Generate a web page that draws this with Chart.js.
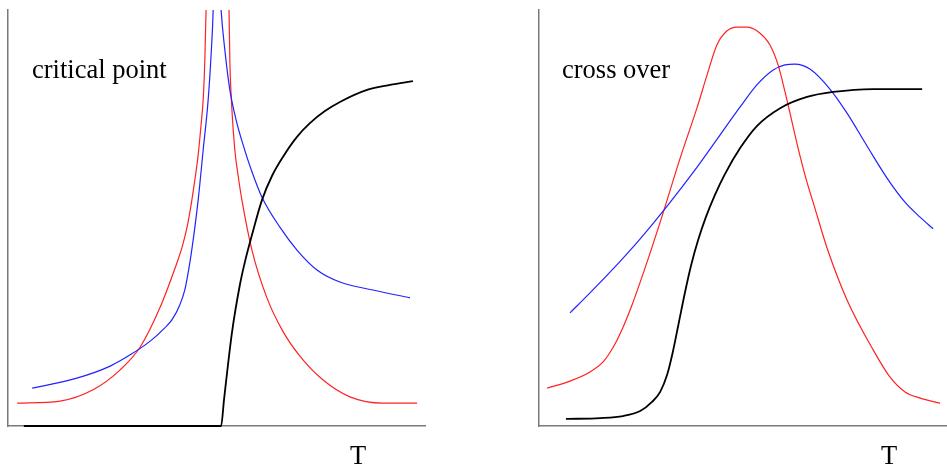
<!DOCTYPE html>
<html>
<head>
<meta charset="utf-8">
<script src="https://cdn.jsdelivr.net/npm/chart.js@4"></script>
<style>
  body { margin: 0; background: #fff; width: 947px; height: 468px; position: relative; overflow: hidden; }
  .panel { position: absolute; top: 0; height: 468px; }
  .label { position: absolute; font-family: 'Liberation Serif', 'Times New Roman', serif; font-size: 26.5px; line-height: 26px; color: #000; white-space: nowrap; }
</style>
</head>
<body>
<div class="panel" style="left:0; width:470px;"><canvas id="criticalChart"></canvas></div>
<div class="panel" style="left:480px; width:467px;"><canvas id="crossChart"></canvas></div>
<div class="label" style="left:32px; top:56px;">critical point</div>
<div class="label" style="left:350px; top:442px;">T</div>
<div class="label" style="left:562px; top:56px;">cross over</div>
<div class="label" style="left:881px; top:442px;">T</div>
<script>
// Critical point panel: [T, value] pairs, both axes run 0..100
const criticalBlack = [[3.8, 0], [51.1, 0], [51.8, 6.3], [53.7, 22.4], [55.6, 33.9], [56.8, 39.4], [58.5, 45.9],
  [60.9, 54.3], [63.3, 60.1], [66.2, 65.1], [69.3, 69.5], [72.4, 72.8], [76.0, 75.7], [79.6, 77.9], [86.1, 80.8],
  [91.6, 82.0], [97.1, 82.9]];
const criticalRedLow = [[2.2, 5.5], [12.5, 6.0], [20.4, 8.7], [26.9, 13.5], [31.7, 19.0], [36.5, 28.6], [40.5, 39.2],
  [41.7, 42.8], [42.9, 47.6], [43.9, 53.1], [44.8, 59.1], [45.6, 65.1], [46.3, 72.4], [46.8, 78.4], [47.2, 88.0],
  [47.5, 100], [47.7, 109.6]];
const criticalRedHigh = [[52.8, 109.6], [53.0, 100], [53.2, 88.0], [53.7, 76.0], [54.4, 66.3], [55.2, 60.1], [56.1, 54.3],
  [58.5, 42.3], [62.1, 30.8], [65.9, 22.8], [70.0, 16.8], [75.5, 11.1], [82.0, 7.0], [89.9, 5.5], [98.1, 5.5]];
const criticalBlueLow = [[5.8, 9.1], [16.5, 11.5], [24.5, 14.4], [29.3, 17.1], [34.1, 20.4], [37.6, 23.6], [39.3, 25.5],
  [41.2, 29.1], [42.4, 32.7], [43.4, 38.0], [44.4, 44.7], [45.6, 54.3], [46.8, 66.3], [48.0, 78.4], [48.7, 89.2],
  [49.2, 100], [49.4, 109.6]];
const criticalBlueHigh = [[50.6, 109.6], [51.1, 100], [52.0, 90.4], [53.2, 80.8], [54.7, 73.6], [56.4, 67.5], [58.5, 61.1],
  [60.9, 55.0], [65.2, 47.8], [69.3, 42.3], [74.1, 37.5], [79.6, 34.6], [87.5, 32.7], [96.4, 30.8]];

// Cross over panel
const crossBlack = [[6.6, 1.7], [15.0, 1.9], [20.6, 2.4], [24.8, 3.6], [27.7, 5.8], [29.7, 8.2], [31.4, 12.3],
  [32.8, 17.8], [34.3, 25.0], [35.8, 32.2], [37.3, 38.7], [39.0, 44.7], [40.9, 50.2], [43.1, 55.5], [45.6, 60.6],
  [49.3, 66.8], [53.4, 72.1], [59.1, 76.4], [65.7, 79.1], [72.1, 80.3], [81.9, 81.0], [93.9, 81.0]];
const crossRed = [[2.0, 9.1], [7.6, 10.8], [12.5, 13.0], [15.7, 15.4], [18.1, 18.8], [20.3, 23.1], [22.8, 29.1],
  [26.0, 38.0], [29.7, 49.0], [34.6, 64.4], [38.7, 76.4], [41.2, 84.4], [43.6, 91.6], [46.1, 95.0], [48.5, 95.9],
  [51.0, 95.9], [53.4, 95.0], [56.6, 91.6], [58.6, 86.8], [60.3, 80.3], [61.8, 74.0], [63.5, 66.8], [65.4, 59.6],
  [67.4, 53.1], [70.6, 42.8], [75.5, 30.3], [81.9, 18.3], [86.0, 11.8], [89.7, 8.2], [93.4, 6.7], [98.3, 5.5]];
const crossBlue = [[7.6, 27.2], [12.5, 32.0], [18.1, 37.7], [24.8, 45.0], [31.6, 53.1], [38.2, 61.5], [44.4, 70.0],
  [49.3, 76.7], [53.4, 82.0], [57.4, 85.6], [60.3, 86.8], [62.7, 87.0], [66.4, 85.8], [71.3, 81.0], [75.5, 75.2],
  [80.4, 67.3], [85.3, 59.6], [89.7, 53.8], [93.4, 50.2], [96.6, 47.4]];

const toPoints = pairs => pairs.map(p => ({ x: p[0], y: p[1] }));

function curve(pairs, color, width) {
  return {
    data: toPoints(pairs),
    borderColor: color,
    borderWidth: width,
    pointRadius: 0,
    fill: false,
    cubicInterpolationMode: 'monotone',
    clip: { left: 5, top: 0, right: 5, bottom: 5 }
  };
}

function axisOptions() {
  return {
    type: 'linear',
    min: 0,
    max: 100,
    grid: { display: false, drawTicks: false },
    ticks: { display: false },
    border: { display: true, color: '#7a7a7a', width: 1.5 }
  };
}

function makeChart(id, datasets, padding) {
  return new Chart(document.getElementById(id).getContext('2d'), {
    type: 'line',
    data: { datasets: datasets },
    options: {
      responsive: true,
      maintainAspectRatio: false,
      animation: false,
      events: [],
      layout: { padding: padding },
      plugins: { legend: { display: false }, tooltip: { enabled: false } },
      scales: { x: axisOptions(), y: axisOptions() }
    }
  });
}

makeChart('criticalChart', [
  curve(criticalBlack, '#000', 1.8),
  curve(criticalBlueLow, '#2222ff', 1.2),
  curve(criticalBlueHigh, '#2222ff', 1.2),
  curve(criticalRedLow, '#ff2222', 1.2),
  curve(criticalRedHigh, '#ff2222', 1.2)
], { left: 8, right: 45, top: 10, bottom: 42 });

makeChart('crossChart', [
  curve(crossBlack, '#000', 1.8),
  curve(crossBlue, '#2222ff', 1.2),
  curve(crossRed, '#ff2222', 1.2)
], { left: 59, right: 0, top: 10, bottom: 42 });
</script>
</body>
</html>
